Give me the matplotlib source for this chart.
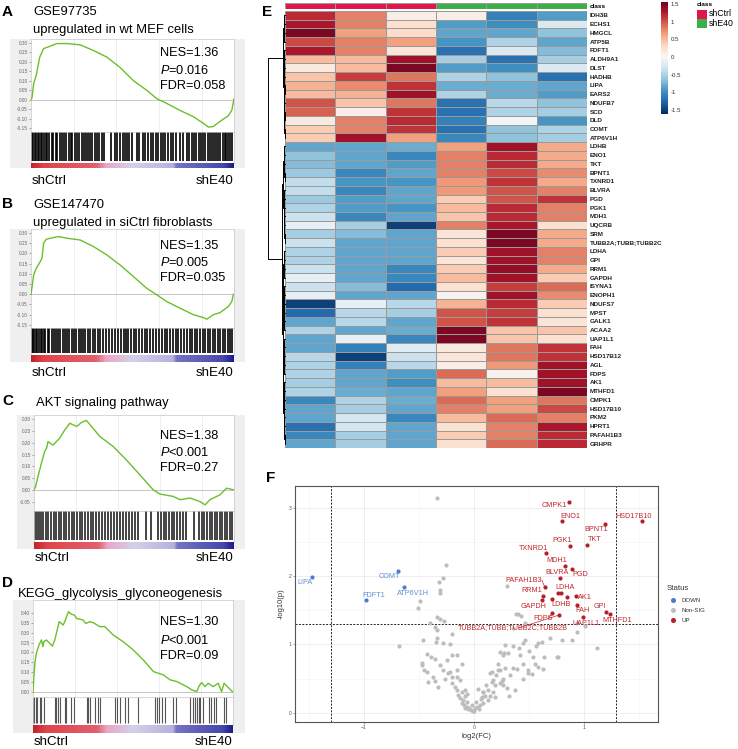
import numpy as np
import matplotlib
matplotlib.use('Agg')
import matplotlib.pyplot as plt
from matplotlib.colors import LinearSegmentedColormap, ListedColormap
from matplotlib.patches import Rectangle

plt.rcParams['font.family'] = ['Liberation Sans', 'DejaVu Sans']
plt.rcParams['mathtext.fontset'] = 'custom'
plt.rcParams['mathtext.it'] = 'Liberation Sans:italic'
plt.rcParams['mathtext.rm'] = 'Liberation Sans'

# ── GSEA running enrichment scores (rank fraction, ES) ───────────────────────
A_x = [0, 0.005, 0.013, 0.026, 0.043, 0.062, 0.087, 0.128, 0.177, 0.243, 0.308, 0.374,
       0.439, 0.505, 0.570, 0.620, 0.669, 0.734, 0.800, 0.849, 0.874, 0.898, 0.931,
       0.972, 0.989, 1.0]
A_es = [0, 0.01, 0.085, 0.13, 0.225, 0.27, 0.28, 0.297, 0.297, 0.29, 0.26, 0.225,
        0.17, 0.10, 0.05, 0.005, -0.02, -0.057, -0.09, -0.125, -0.145, -0.142, -0.115,
        -0.085, -0.057, 0.005]
A_hits = [0.5, 1.2, 1.9, 2.6, 3.4, 4.1, 4.9, 5.6, 6.4, 7.2, 8.0, 9.1, 10.2, 11.0, 12.1, 13.0,
          14.2, 15.3, 16.4, 17.2, 18.5, 19.6, 20.4, 21.5, 22.6, 23.8, 24.9, 26.0, 27.2, 28.3,
          29.1, 30.2, 31.5, 32.6, 33.4, 34.8, 36.0, 39.5, 41.2, 42.5, 44.0, 45.3, 46.1, 47.4,
          48.5, 49.6, 52.0, 53.4, 55.0, 56.2, 57.8, 59.1, 60.3, 61.5, 62.8, 64.0, 65.2, 66.1,
          67.5, 68.8, 70.0, 71.3, 73.5, 75.1, 76.8, 78.0, 79.3, 80.5, 81.4, 82.6, 83.8, 84.7,
          85.9, 87.0, 88.2, 89.1, 90.0, 91.3, 92.2, 93.1, 94.4, 95.5, 96.3, 97.2, 98.1, 99.0]

B_x = [0, 0.002, 0.013, 0.026, 0.043, 0.054, 0.062, 0.075, 0.095, 0.136, 0.177, 0.243,
       0.308, 0.374, 0.439, 0.505, 0.570, 0.620, 0.669, 0.734, 0.800, 0.849, 0.866,
       0.898, 0.931, 0.972, 0.989, 0.997]
B_es = [0, 0.013, 0.094, 0.127, 0.155, 0.176, 0.249, 0.269, 0.274, 0.282, 0.274, 0.265,
        0.233, 0.192, 0.143, 0.086, 0.029, -0.003, -0.036, -0.068, -0.10, -0.114, -0.122,
        -0.10, -0.09, -0.06, -0.036, 0.0]
B_hits = [0.3, 0.9, 1.6, 2.3, 3.1, 3.8, 4.7, 5.5, 6.3, 7.0, 8.2, 9.0, 10.1, 11.2, 12.4, 13.3,
          14.5, 15.6, 16.8, 17.6, 18.9, 20.1, 21.3, 22.2, 23.5, 24.7, 25.6, 26.8, 28.0, 29.2,
          30.5, 31.7, 32.9, 34.1, 35.4, 37.0, 38.2, 40.1, 41.6, 43.0, 44.4, 45.6, 46.8, 48.0,
          49.3, 50.5, 51.8, 53.2, 54.6, 56.0, 57.1, 58.5, 60.0, 61.7, 63.2, 64.5, 65.8, 67.0,
          68.4, 69.9, 71.2, 72.5, 74.0, 75.4, 76.7, 78.1, 79.5, 80.8, 82.0, 83.3, 84.6, 85.8,
          87.1, 88.4, 89.6, 90.8, 92.0, 93.3, 94.5, 95.6, 96.8, 98.0, 99.1]

C_x = [0, 0.008, 0.02, 0.037, 0.053, 0.063, 0.07, 0.095, 0.112, 0.129, 0.154, 0.179,
       0.195, 0.215, 0.237, 0.262, 0.329, 0.396, 0.462, 0.529, 0.596, 0.63, 0.696,
       0.73, 0.78, 0.83, 0.855, 0.880, 0.93, 0.963, 0.997]
C_es = [0.0, 0.014, 0.057, 0.113, 0.163, 0.177, 0.205, 0.19, 0.205, 0.22, 0.255, 0.283,
        0.276, 0.27, 0.286, 0.295, 0.227, 0.184, 0.127, 0.064, 0.0, -0.018, -0.028,
        -0.042, -0.035, -0.05, -0.064, -0.042, -0.021, 0.007, 0.0]
C_hits = [0.5, 1.5, 2.4, 3.5, 4.6, 5.8, 7.0, 8.5, 9.8, 11.0, 12.3, 13.5, 14.8, 16.0, 17.5,
          18.8, 20.0, 21.4, 22.8, 24.0, 25.5, 27.0, 28.3, 29.6, 31.0, 32.5, 34.0, 35.4, 36.8,
          38.5, 40.0, 41.5, 43.0, 44.6, 46.0, 47.5, 49.0, 50.4, 52.0, 56.0, 58.5, 62.0, 63.4,
          64.8, 66.0, 67.4, 68.8, 70.1, 71.5, 73.0, 74.4, 76.0, 80.0, 82.5, 84.0, 85.2, 86.5,
          87.8, 89.0, 90.3, 91.5, 92.8, 94.0, 95.3, 96.5, 97.8, 99.0]

D_x = [0, 0.005, 0.01, 0.017, 0.03, 0.042, 0.05, 0.054, 0.067, 0.097, 0.109, 0.117,
       0.131, 0.151, 0.162, 0.177, 0.191, 0.207, 0.219, 0.251, 0.264, 0.284, 0.301,
       0.334, 0.359, 0.401, 0.451, 0.502, 0.552, 0.602, 0.652, 0.686, 0.719, 0.769,
       0.794, 0.819, 0.831, 0.843, 0.860, 0.876, 0.901, 0.926, 0.943, 0.955, 0.997]
D_es = [0.0, 0.087, 0.154, 0.196, 0.238, 0.263, 0.229, 0.254, 0.263, 0.232, 0.263, 0.296,
        0.355, 0.338, 0.363, 0.405, 0.393, 0.388, 0.371, 0.363, 0.346, 0.355, 0.35,
        0.33, 0.33, 0.288, 0.254, 0.212, 0.162, 0.104, 0.087, 0.062, 0.054, 0.028,
        0.012, 0.003, 0.032, 0.049, 0.028, 0.045, 0.028, 0.045, 0.003, 0.045, 0.003]
D_hits = [0, 0.7, 1.3, 2.0, 3.3, 4.2, 5.4, 10.9, 11.7, 12.7, 13.4, 15.9, 16.7, 19.2, 20.4,
          26.8, 27.6, 28.4, 30.9, 32.6, 33.4, 41.0, 41.8, 43.5, 46.0, 47.7, 52.7, 61.0, 61.9,
          63.2, 64.4, 66.0, 70.2, 71.4, 78.6, 79.9, 80.8, 82.0, 82.8, 83.6, 85.0, 87.8, 89.0,
          90.3, 91.6, 95.3, 96.7]

# ranked-list gradient stops (shCtrl -> shE40)
rank_colors = [(0.0, '#c0242c'), (0.06, '#e04448'), (0.32, '#e0606e'), (0.37, '#e9a8c6'),
               (0.50, '#d4d0ea'), (0.70, '#b4b2de'), (0.72, '#7474c4'), (0.95, '#4848ae'),
               (1.0, '#1c1c8c')]

# ── Heatmap (z-scores) ───────────────────────────────────────────────────────
genes = ['IDH3B', 'ECHS1', 'HMGCL', 'ATP5B', 'FDFT1', 'ALDH9A1', 'DLST', 'HADHB', 'LIPA',
         'EARS2', 'NDUFB7', 'SCD', 'DLD', 'COMT', 'ATP6V1H', 'LDHB', 'ENO1', 'TKT', 'BPNT1',
         'TXNRD1', 'BLVRA', 'PGD', 'PGK1', 'MDH1', 'UQCRB', 'SRM', 'TUBB2A;TUBB;TUBB2C',
         'LDHA', 'GPI', 'RRM1', 'GAPDH', 'ISYNA1', 'ENOPH1', 'NDUFS7', 'MPST', 'GALK1',
         'ACAA2', 'UAP1L1', 'FAH', 'HSD17B12', 'AGL', 'FDPS', 'AK1', 'MTHFD1', 'CMPK1',
         'HSD17B10', 'PKM2', 'HPRT1', 'PAFAH1B3', 'GRHPR']
sample_class = [0, 0, 0, 1, 1, 1]
zscores = [
    [1.2, 0.8, 0.1, 0.1, -1.1, -0.9], [1.3, 0.8, 0.25, -0.9, -1.0, -0.25],
    [1.5, 0.65, 0.3, -0.85, -0.85, -0.65], [1.05, 0.8, 0.65, -0.95, -0.5, -0.85],
    [1.3, 0.8, 0.2, -1.2, -0.25, -0.7], [0.5, 0.5, 1.35, -0.55, -1.2, -0.55],
    [0.15, 0.5, 1.5, -0.9, -1.0, -0.25], [0.45, 1.1, 0.85, -0.5, -0.65, -1.2],
    [0.55, 0.75, 1.15, -0.8, -0.8, -0.85], [0.5, 0.55, 1.35, -0.5, -0.8, -0.9],
    [1.0, 0.45, 0.85, -1.2, -0.45, -0.65], [0.95, 0.1, 1.15, -1.2, -0.5, -0.55],
    [0.15, 0.8, 1.2, -1.1, -0.05, -0.95], [0.4, 0.8, 1.15, -1.2, -0.65, -0.5],
    [0.4, 1.35, 0.65, -1.05, -0.65, -0.55], [-0.85, -0.85, -0.8, 0.65, 1.35, 0.6],
    [-0.65, -0.85, -1.05, 0.8, 1.2, 0.6], [-0.7, -0.85, -0.9, 0.8, 1.2, 0.6],
    [-0.6, -1.05, -0.85, 0.8, 1.05, 0.75], [-0.4, -0.95, -0.95, 0.7, 1.15, 0.6],
    [-0.4, -1.05, -0.85, 0.7, 1.0, 0.8], [-0.6, -0.9, -0.85, 0.4, 1.0, 1.15],
    [-0.5, -0.9, -0.95, 0.5, 1.2, 0.8], [-0.35, -1.05, -0.85, 0.45, 1.2, 0.8],
    [-0.15, -0.55, -1.5, 0.8, 1.3, 0.25], [-0.55, -0.7, -0.85, 0.2, 1.5, 0.6],
    [-0.35, -0.85, -0.85, 0.25, 1.5, 0.6], [-0.5, -0.85, -0.85, 0.4, 1.35, 0.8],
    [-0.5, -0.85, -0.85, 0.2, 1.35, 0.8], [-0.35, -0.85, -1.05, 0.4, 1.4, 0.6],
    [-0.15, -0.85, -1.05, 0.5, 1.35, 0.4], [-0.35, -0.7, -1.25, 0.25, 1.1, 0.9],
    [-0.15, -0.85, -0.85, 0.05, 1.35, 0.75], [-1.5, -0.15, -0.45, 0.55, 1.2, 0.4],
    [-1.25, -0.45, -0.55, 1.0, 1.1, 0.25], [-0.85, -0.45, -0.85, 1.0, 1.15, 0.2],
    [-0.5, -0.85, -0.8, 1.5, 0.45, 0.45], [-0.85, -0.15, -1.05, 1.5, 0.45, 0.25],
    [-0.85, -1.1, -0.2, 0.15, 0.85, 1.15], [-0.45, -1.5, -0.35, 0.2, 0.85, 1.15],
    [-0.5, -1.1, -0.45, 0.1, 0.7, 1.35], [-0.5, -0.85, -0.9, 0.9, 0.05, 1.35],
    [-0.55, -0.85, -1.0, 0.5, 0.5, 1.35], [-0.5, -0.8, -0.85, 0.65, 0.25, 1.5],
    [-1.05, -0.5, -0.8, 0.9, 0.65, 0.85], [-0.85, -0.55, -0.85, 0.8, 0.65, 1.05],
    [-0.85, -0.3, -1.05, 0.5, 0.9, 0.8], [-1.2, -0.3, -0.85, 0.25, 0.8, 1.3],
    [-1.05, -0.55, -0.85, 0.4, 0.8, 1.2], [-0.85, -0.55, -0.85, 0.25, 0.9, 1.2]]

# row dendrogram: (height, left, right), leaves = row index
top_tree = (0.12, (0.05, (0.03, 0, 1), (0.03, 2, 3)),
            (0.08, (0.05, (0.03, 4, 5), (0.03, 6, 7)),
             (0.06, (0.03, (0.02, 8, 9), 10), (0.04, (0.02, 11, 12), (0.02, 13, 14)))))
left_bottom = (0.1, (0.06, (0.03, 15, 16), (0.04, 17, (0.02, 18, 19))),
               (0.07, (0.04, 20, 21), (0.05, (0.03, 22, 23), (0.04, 24, (0.02, 25, 26)))))
right_bottom = (0.14, (0.1, (0.06, (0.03, 27, 28), (0.04, 29, 30)),
                       (0.07, (0.04, 31, 32), (0.05, (0.03, 33, 34), (0.03, 35, 36)))),
                (0.11, (0.07, (0.04, 37, 38), (0.05, (0.03, 39, 40), 41)),
                 (0.08, (0.05, (0.03, 42, 43), (0.03, 44, 45)),
                  (0.06, (0.03, 46, 47), (0.02, 48, 49)))))
row_tree = (1.0, top_tree, (0.18, left_bottom, right_bottom))

# ── Volcano ──────────────────────────────────────────────────────────────────
down_genes = ['LIPA', 'COMT', 'FDFT1', 'ATP6V1H']
down_fc = [-1.475, -0.694, -0.985, -0.634]
down_p = [1.99, 2.08, 1.65, 1.84]

up_genes = ['CMPK1', 'ENO1', 'HSD17B10', 'BPNT1', 'TKT', 'PGK1', 'TXNRD1', 'MDH1', 'PGD',
            'BLVRA', 'PAFAH1B3', 'LDHA', '', 'AK1', '', 'RRM1', 'GAPDH', 'LDHB', 'FAH', 'GPI',
            'MTHFD1', 'UAP1L1', 'FDPS', 'TUBB2A;TUBB;TUBB2C;TUBB2B']
up_fc = [0.867, 0.80, 1.53, 1.19, 1.024, 0.876, 0.652, 0.83, 0.89, 0.78, 0.643, 0.76, 0.794,
         0.924, 0.845, 0.624, 0.618, 0.712, 0.933, 1.20, 1.233, 0.988, 0.712, 0.773]
up_p = [3.08, 2.81, 2.81, 2.77, 2.46, 2.44, 2.34, 2.15, 2.11, 1.98, 1.84, 1.76, 1.76, 1.71,
        1.70, 1.71, 1.645, 1.67, 1.58, 1.47, 1.44, 1.40, 1.455, 1.43]

ns_fc = [-0.34, -0.254, -0.285, -0.315, -0.309, -0.309, -0.491, -0.512, -0.679, -0.40, -0.339,
         -0.309, -0.273, -0.355, -0.339, -0.203, -0.339, -0.349, -0.461, -0.279, -0.218, -0.43,
         -0.391, -0.476, -0.455, -0.43, -0.355, -0.309, -0.248, -0.203, -0.158, -0.112, -0.279,
         -0.218, -0.37, -0.355, -0.264, -0.324, -0.203, -0.158, -0.127, -0.173, -0.158, -0.112,
         -0.082, -0.142, -0.127, -0.103, -0.082, -0.067, -0.112, -0.091, -0.067, -0.042, -0.03,
         -0.006, 0.009, 0.03, 0.055, 0.049, 0.085, 0.13, 0.145, 0.085, 0.13, 0.176, 0.191, 0.236,
         0.267, 0.176, 0.161, 0.236, 0.282, 0.221, 0.267, 0.236, 0.282, 0.303, 0.382, 0.403,
         0.425, 0.464, 0.358, 0.273, 0.358, 0.448, 0.464, 0.56, 0.585, 0.615, 0.69, 0.803, 0.888,
         0.933, 0.94, 1.009, 1.115, 0.639, 0.767, 0.312, 0.418, 0.448, 0.494, 0.524, 0.358, 0.388,
         0.63, 0.448, 0.251, 0.30, 0.373, 0.321, 0.54, 0.145, 0.22, 0.16, 0.085, 0.267, 0.19,
         0.07, 0.494, 0.555, 0.585, 0.752, -0.05, -0.02, 0.02, 0.0, -0.08, 0.06, 0.1, -0.06,
         -0.2, -0.24, 0.11, 0.04, 0.2, 0.33, 0.41, 0.5, -0.15, -0.42, -0.47]
ns_p = [3.15, 2.17, 1.97, 1.92, 1.79, 1.76, 1.64, 1.53, 0.97, 1.31, 1.40, 1.37, 1.35, 1.26,
        1.21, 1.16, 1.09, 1.03, 1.06, 1.02, 1.00, 0.86, 0.81, 0.73, 0.63, 0.60, 0.78, 0.70,
        0.77, 0.84, 0.84, 0.72, 0.63, 0.60, 0.52, 0.47, 0.49, 0.38, 0.52, 0.53, 0.48, 0.38,
        0.33, 0.31, 0.33, 0.26, 0.21, 0.19, 0.24, 0.16, 0.14, 0.11, 0.09, 0.07, 0.04, 0.02,
        0.07, 0.09, 0.11, 0.05, 0.14, 0.19, 0.24, 0.31, 0.33, 0.31, 0.41, 0.43, 0.50, 0.48,
        0.60, 0.63, 0.65, 0.72, 0.84, 0.89, 0.99, 1.86, 1.45, 1.44, 1.41, 1.31, 1.24, 0.88,
        0.97, 1.02, 1.07, 0.98, 1.02, 1.04, 1.09, 1.06, 1.06, 1.18, 1.32, 1.27, 0.95, 0.82,
        0.81, 0.87, 0.84, 0.72, 0.63, 0.56, 0.65, 0.64, 0.64, 0.49, 0.47, 0.36, 0.33, 0.24,
        0.82, 0.58, 0.62, 0.45, 0.31, 0.40, 0.23, 0.23, 0.58, 0.72, 0.67, 0.82, 0.05, 0.12,
        0.15, 0.03, 0.07, 0.2, 0.25, 0.28, 0.43, 0.58, 0.4, 0.35, 0.55, 0.55, 0.95, 0.9, 0.62,
        0.45, 0.7]

# label positions (data coords) for the volcano annotations
down_lab = {'LIPA': (-1.536, 1.91), 'COMT': (-0.77, 2.0), 'FDFT1': (-0.909, 1.72),
            'ATP6V1H': (-0.558, 1.75)}
up_lab = {'CMPK1': (0.727, 3.03), 'ENO1': (0.879, 2.88), 'HSD17B10': (1.454, 2.88),
          'BPNT1': (1.115, 2.68), 'TKT': (1.10, 2.54), 'PGK1': (0.803, 2.52),
          'TXNRD1': (0.54, 2.41), 'MDH1': (0.757, 2.23), 'BLVRA': (0.757, 2.06),
          'PGD': (0.97, 2.03), 'PAFAH1B3': (0.448, 1.94), 'LDHA': (0.827, 1.84),
          'RRM1': (0.524, 1.79), 'AK1': (1.009, 1.69), 'GAPDH': (0.54, 1.56),
          'LDHB': (0.79, 1.58), 'FAH': (0.988, 1.50), 'GPI': (1.145, 1.55),
          'FDPS': (0.624, 1.38), 'MTHFD1': (1.30, 1.35), 'UAP1L1': (1.018, 1.31),
          'TUBB2A;TUBB;TUBB2C;TUBB2B': (0.355, 1.24)}
leader = ['PAFAH1B3', 'FDPS', 'TUBB2A;TUBB;TUBB2C;TUBB2B']

# ── FIGURE ───────────────────────────────────────────────────────────────────
W, H = 738, 749
fig = plt.figure(figsize=(W / 100, H / 100), dpi=100)


def rect(x0, y0, x1, y1):
    return [x0 / W, 1 - y1 / H, (x1 - x0) / W, (y1 - y0) / H]


def ftext(x, y, s, **kw):
    kw.setdefault('va', 'center')
    fig.text(x / W, 1 - y / H, s, **kw)


rank_cmap = LinearSegmentedColormap.from_list('rank', rank_colors)


def gsea_panel(letter, titles, bg, xs, ys, x, es, hits, ylim, yticks, stats, hit_color,
               hit_lw, lab_y):
    x0, x1 = xs
    y0, y_es, y_hit, y_bar = ys
    fig.patches.append(Rectangle((bg[0] / W, 1 - bg[3] / H), (bg[2] - bg[0]) / W,
                                 (bg[3] - bg[1]) / H, transform=fig.transFigure,
                                 facecolor='#efefef', edgecolor='none', zorder=-5))
    ax = fig.add_axes(rect(x0, y0, x1, y_es))
    ax.set_facecolor('white')
    for g in [0.21, 0.42, 0.63, 0.84]:
        ax.axvline(g, color='#e8e8e8', lw=0.5, zorder=0)
    ax.axhline(0, color='#bdbdbd', lw=0.6, zorder=1)
    ax.plot(x, es, color='#6cbf2c', lw=1.0, zorder=3)
    ax.set_xlim(0, 1)
    ax.set_ylim(*ylim)
    ax.set_yticks(yticks)
    ax.set_yticklabels([f'{t:.2f}' for t in yticks])
    ax.set_xticks([])
    ax.tick_params(axis='y', labelsize=3.4, colors='#666666', length=1.2, width=0.4, pad=1)
    for sp in ax.spines.values():
        sp.set_color('#c8c8c8'); sp.set_linewidth(0.5)

    axh = fig.add_axes(rect(x0, y_es, x1, y_hit))
    axh.set_facecolor('white')
    axh.vlines(hits, 0.06, 1, colors=hit_color, lw=hit_lw)
    axh.set_xlim(0, 100); axh.set_ylim(0, 1.0)
    axh.set_xticks([]); axh.set_yticks([])
    for sp in axh.spines.values():
        sp.set_color('#c8c8c8'); sp.set_linewidth(0.5)

    axb = fig.add_axes(rect(x0, y_hit, x1, y_bar))
    axb.imshow(np.linspace(0, 1, 300)[None, :], aspect='auto', cmap=rank_cmap,
               extent=[0, 1, 0, 1])
    axb.axis('off')

    ftext(2, titles[0][1], letter, fontsize=11, fontweight='bold')
    for s, y, tx in titles[1:]:
        ftext(tx, y, s, fontsize=9.4)
    for s, y in stats:
        ftext(160, y, s, fontsize=9.2)
    ftext(x0 + 1, lab_y, 'shCtrl', fontsize=9.6)
    ftext(x1 - 1, lab_y, 'shE40', fontsize=9.6, ha='right')


gsea_panel('A', [('A', 12), ('GSE97735', 12, 33), ('upregulated in wt MEF cells', 30, 33)],
           (10, 39, 245, 168), (31, 234), (39, 132, 163, 168), A_x, A_es, A_hits,
           (-0.171, 0.321), [0.30, 0.25, 0.20, 0.15, 0.10, 0.05, 0.00, -0.05, -0.10, -0.15],
           [('NES=1.36', 53), ('$P$=0.016', 70), ('FDR=0.058', 86)], 'black', 1.2, 181)
gsea_panel('B', [('B', 204), ('GSE147470', 205, 33),
                 ('upregulated in siCtrl fibroblasts', 223, 33)],
           (10, 229, 245, 362), (31, 234), (229, 328, 355, 362), B_x, B_es, B_hits,
           (-0.165, 0.319), [0.30, 0.25, 0.20, 0.15, 0.10, 0.05, 0.00, -0.05, -0.10, -0.15],
           [('NES=1.35', 246), ('$P$=0.005', 262), ('FDR=0.035', 278)], 'black', 1.2, 373)
gsea_panel('C', [('C', 401), ('AKT signaling pathway', 403, 36)],
           (17, 415, 245, 549), (34, 234), (415, 511, 542, 549), C_x, C_es, C_hits,
           (-0.090, 0.318), [0.30, 0.25, 0.20, 0.15, 0.10, 0.05, 0.00, -0.05],
           [('NES=1.38', 436), ('$P$<0.001', 452), ('FDR=0.27', 468)], '#111111', 1.1, 558)
gsea_panel('D', [('D', 583), ('KEGG_glycolysis_glyconeogenesis', 594, 18)],
           (13, 600, 245, 733), (33, 233), (600, 697, 725, 733), D_x, D_es, D_hits,
           (-0.024, 0.464), [0.40, 0.35, 0.30, 0.25, 0.20, 0.15, 0.10, 0.05, 0.00],
           [('NES=1.30', 622), ('$P$<0.001', 640), ('FDR=0.09', 656)], '#555555', 0.8, 742)

# ── E: heatmap ───────────────────────────────────────────────────────────────
ftext(262, 12, 'E', fontsize=11, fontweight='bold')
n_rows = len(genes)
axc = fig.add_axes(rect(285, 3, 587, 9))
axc.pcolormesh(np.array([sample_class]), cmap=ListedColormap(['#e0174d', '#3dae49']),
               edgecolors='#9a9a9a', linewidth=0.4)
axc.set_xlim(0, 6); axc.set_ylim(0, 1)
axc.set_xticks([]); axc.set_yticks([])
for sp in axc.spines.values():
    sp.set_visible(False)
ftext(590, 6, 'class', fontsize=4.6, fontweight='bold')

axm = fig.add_axes(rect(285, 11, 587, 448))
axm.pcolormesh(np.array(zscores), cmap='RdBu_r', vmin=-1.6, vmax=1.6,
               edgecolors='#9a9a9a', linewidth=0.4)
axm.set_xlim(0, 6); axm.set_ylim(n_rows, 0)
axm.set_xticks([])
axm.yaxis.tick_right()
axm.set_yticks(np.arange(n_rows) + 0.5)
axm.set_yticklabels(genes, fontsize=4.6, fontweight='bold', color='#222222')
axm.tick_params(axis='y', length=0, pad=2)
for sp in axm.spines.values():
    sp.set_visible(False)

axd = fig.add_axes(rect(268, 11, 285, 448))


def draw_tree(node):
    if isinstance(node, int):
        return node + 0.5, 0.0
    h, left, right = node
    y1, h1 = draw_tree(left)
    y2, h2 = draw_tree(right)
    axd.plot([h1, h, h, h2], [y1, y1, y2, y2], color='black', lw=0.7, clip_on=False)
    return (y1 + y2) / 2, h


draw_tree(row_tree)
axd.set_xlim(1.0, 0); axd.set_ylim(n_rows, 0)
axd.axis('off')

axcb = fig.add_axes(rect(661, 2, 668, 114))
axcb.imshow(np.linspace(1.556, -1.61, 200)[:, None], aspect='auto', cmap='RdBu_r',
            vmin=-1.6, vmax=1.6, extent=[0, 1, -1.61, 1.556])
axcb.set_xticks([])
axcb.yaxis.tick_right()
axcb.set_yticks([1.5, 1, 0.5, 0, -0.5, -1, -1.5])
axcb.set_yticklabels(['1.5', '1', '0.5', '0', '-0.5', '-1', '-1.5'])
axcb.tick_params(axis='y', length=0, labelsize=4.4, pad=2, colors='#333333')
for sp in axcb.spines.values():
    sp.set_visible(False)

ftext(697, 5, 'class', fontsize=4.6, fontweight='bold')
fig.patches.append(Rectangle((697 / W, 1 - 19 / H), 10 / W, 9 / H, transform=fig.transFigure,
                             facecolor='#e0174d', edgecolor='none'))
fig.patches.append(Rectangle((697 / W, 1 - 28 / H), 10 / W, 9 / H, transform=fig.transFigure,
                             facecolor='#3dae49', edgecolor='none'))
ftext(709, 14, 'shCtrl', fontsize=6.3)
ftext(709, 23.5, 'shE40', fontsize=6.3)

# ── F: volcano ───────────────────────────────────────────────────────────────
ftext(266, 478, 'F', fontsize=11, fontweight='bold')
axv = fig.add_axes(rect(295, 486, 658, 722))
axv.set_xlim(-1.627, 1.673)
axv.set_ylim(-0.136, 3.32)
axv.set_xticks([-1, 0, 1]); axv.set_xticks([-1.5, -0.5, 0.5, 1.5], minor=True)
axv.set_yticks([0, 1, 2, 3]); axv.set_yticks([0.5, 1.5, 2.5], minor=True)
axv.grid(which='major', color='#ebebeb', lw=0.6)
axv.grid(which='minor', color='#f4f4f4', lw=0.4)
axv.set_axisbelow(True)
axv.tick_params(which='major', labelsize=3.6, colors='#555555', length=1.5, width=0.4, pad=1)
axv.tick_params(which='minor', length=0)
for sp in axv.spines.values():
    sp.set_color('#555555'); sp.set_linewidth(0.8)
axv.axvline(-1.3, color='#222222', lw=0.7, ls=(0, (2, 1.5)))
axv.axvline(1.29, color='#222222', lw=0.7, ls=(0, (2, 1.5)))
axv.axhline(1.301, color='#222222', lw=0.7, ls=(0, (2, 1.5)))
axv.scatter(ns_fc, ns_p, s=9, color='#bdbdbd', lw=0, zorder=3)
axv.scatter(down_fc, down_p, s=9, color='#4a7ccf', lw=0, zorder=4)
axv.scatter(up_fc, up_p, s=9, color='#b41f2a', lw=0, zorder=4)
for g, fx, fy in zip(down_genes, down_fc, down_p):
    lx, ly = down_lab[g]
    axv.text(lx, ly, g, fontsize=5.2, color='#5b8ed6', ha='center', va='center', zorder=5)
for g, fx, fy in zip(up_genes, up_fc, up_p):
    if not g:
        continue
    lx, ly = up_lab[g]
    if g in leader:
        axv.plot([lx + (0.05 if g != 'PAFAH1B3' else 0.17), fx], [ly, fy],
                 color='#c1272d', lw=0.5, zorder=4)
    axv.text(lx, ly, g, fontsize=5.2, color='#c1272d', ha='center', va='center', zorder=5)
axv.set_xlabel('log2(FC)', fontsize=5.5, color='#333333', labelpad=2)
axv.set_ylabel('-log10(p)', fontsize=5.5, color='#333333', labelpad=3)

# legend
ftext(667, 588, 'Status', fontsize=5.6, color='#333333')
for lab, col, y in [('DOWN', '#4a7ccf', 600), ('Non-SIG', '#bdbdbd', 610), ('UP', '#b41f2a', 620)]:
    fig.lines.append(plt.Line2D([673 / W], [1 - y / H], marker='o', markersize=2.6,
                                color=col, lw=0, transform=fig.transFigure))
    ftext(681, y, lab, fontsize=4.4, color='#333333')

fig.savefig('out.png', dpi=100)
